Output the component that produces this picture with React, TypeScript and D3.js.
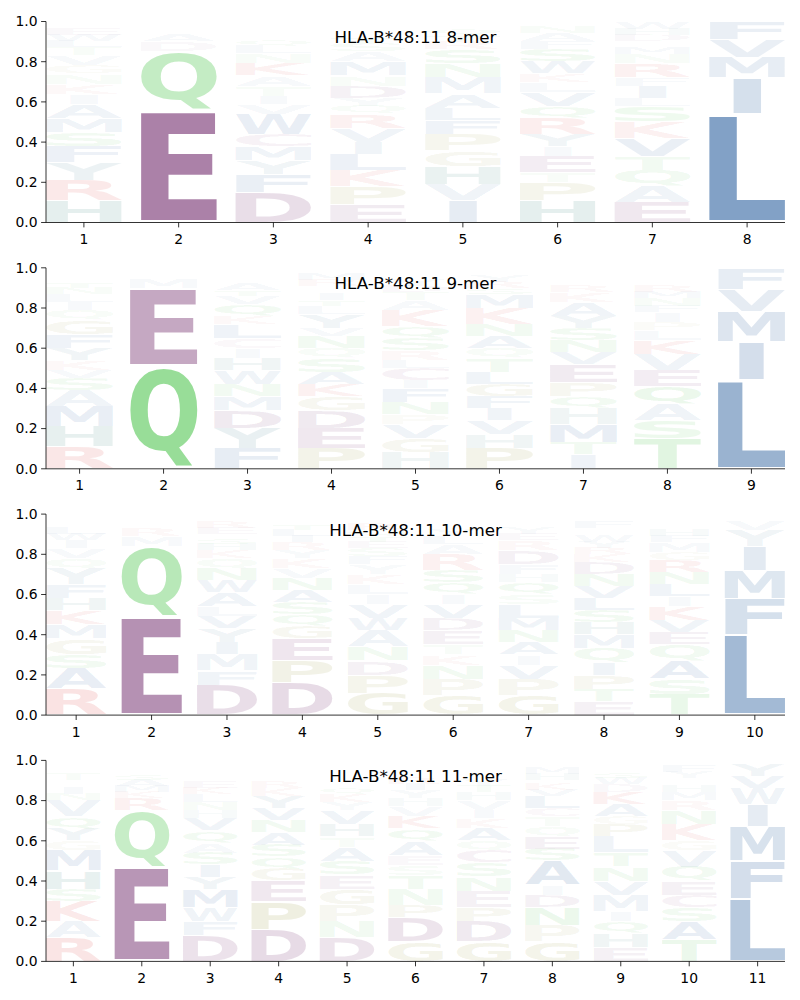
import React, { useMemo } from "react";
import * as d3 from "d3";

const allele = "HLA-B*48:11";
const peptideLengths = [8, 9, 10, 11];

// Each column: letter + height in hundredths, listed from bottom to top
const logo8 = [
  "H11 R10 Y9 F8 S7 M7 A7 I5 K5 N5 G4 V5 T4 L3 W3 E3 C2 D2",
  "E56 Q29 D5 A3 K2 S2 N2",
  "D15 F9 Y7 M7 C6 W10 V5 I4 T5 A5 K6 N5 L4 Q3 R2 E2 S2 H2",
  "E9 P9 K8 L8 I6 V7 R7 Q4 Y4 D6 N5 M7 A5 S4 T3 G2 F2 W2 H2",
  "I11 V8 H9 G8 P8 F7 L6 A7 M8 N7 S7 R4 T3 Q3 K2",
  "H11 P9 T5 E8 I5 Y6 R8 Q6 V7 L5 K4 W6 S6 F4 A4 N3 M2",
  "E10 A8 Q8 T7 V9 K8 S8 L4 I6 F4 R7 N5 M3 Y2 G1 D3 H3 W3",
  "L54 I18 M10 V9 F9",
];
const logo9 = [
  "R11 H10 M10 A8 S6 V4 K5 Y6 F7 G7 Q5 I4 L4 N3 T3 E2 D2 W2",
  "Q51 E39 M5 K2 A2",
  "F10 Y10 D9 M7 N6 W7 H6 I5 C5 L7 K4 Q6 V4 T3 A3 R2 E2 S2",
  "P10 E10 D9 G7 K6 A6 S7 Q5 N6 V4 Y7 L4 T3 I3 F2 H2 R3 M3 W2",
  "H8 G7 V7 P5 N6 F7 I4 C6 L4 R5 S6 Q6 K8 A5 T4 D3 Y3 E2 M2 W2",
  "P10 H7 V7 I6 F6 G6 L6 T7 Q5 A6 N6 K8 M7 S3 R3 Y3 D2",
  "I7 T6 M9 H8 Q6 P7 E9 V6 N6 S6 Y6 A7 K5 R3 L2 F2 D2 G2",
  "T15 S9 A8 Q9 E8 V8 K7 L5 P4 I5 F3 N4 M3 R3 H2 Y2 D2 G2",
  "L44 I19 M15 V11 F10",
];
const logo10 = [
  "R13 A10 S7 G8 M7 K7 H6 F7 Y8 Q5 V5 I4 W3 L3 N2 E2 T2",
  "E49 Q35 M5 R4 K2 D2 A2",
  "D15 F7 M8 I6 Y7 V6 L5 A7 W6 N6 Q5 K4 H3 S3 T2 E3 R3 G2 C2",
  "D16 P11 E11 G6 Q6 S6 A6 N6 V5 K5 Y4 R4 I3 L3 T3 F2 H2",
  "G11 P9 D7 N7 A8 W6 V7 I5 L5 K5 Y5 F4 S4 E3 T3 Q3 R3 M2 H2",
  "G10 P8 N7 K5 T5 E7 D6 V7 I5 Q6 S6 R8 A5 L4 Y3 F2 H2 M2 W2",
  "G10 P8 V7 I5 A6 N6 M6 L7 S5 Q6 H4 F5 D7 R5 E3 Y3 T2 K2 W2",
  "E7 T6 P7 I6 Q7 M7 H6 S6 L6 V6 N6 D6 K4 R3 Y3 W3 A2 G2 F3 C2",
  "T10 S8 A9 Q8 E6 V6 K7 I5 L6 N6 R6 G4 M5 F3 H3 Y2 D2 P2 W2",
  "L40 F18 M14 I12 Y8 V5 W2",
];
const logo11 = [
  "R12 A8 K10 S6 H9 M10 G5 Y6 Q6 V8 N3 I3 L2 F2 T3 E2 D2 W2",
  "E47 Q28 R6 K3 M3 A3 S3 L2 F2 D2",
  "D13 F7 W7 M9 Y6 I6 S6 A5 Q6 V6 H4 N4 L4 K3 E3 R2 T2 G2 C2 P2",
  "D16 P14 E10 G6 Q6 S6 A6 N6 V6 Y6 K4 R3 I2 L2 T2 H2 F2",
  "D12 N8 P8 G8 E7 S7 A7 T5 H6 V7 Y4 K4 Q3 R2 I2 L2 F2 M2 W2",
  "G10 D12 P6 N8 T7 S5 E5 A7 Q6 K6 V5 H4 Y4 I3 R3 L2 F2 M2 W2",
  "G10 D10 P7 E8 N7 S7 C6 Q5 A6 K5 I4 V5 H4 T3 Y3 L2 R2 F2 M2 W1",
  "G10 P8 N9 D6 I5 A12 S6 E6 Q5 T5 C4 L6 V3 K3 Y2 H3 M3 R2 W2",
  "E7 H7 Q6 I5 M8 V7 N7 T7 L8 P6 G4 A6 K6 D4 W3 S3 R2 Y2",
  "T11 A9 S7 C6 E7 Q7 V8 G5 K8 N7 R5 M4 H3 L2 I2 Y3 F3 D2",
  "L31 F19 M17 I11 W8 V6 Y6",
];
const logos = [logo8, logo9, logo10, logo11];
const yTicks = [0, 0.2, 0.4, 0.6, 0.8, 1.0];

const residueColor = (c: string): string => {
  if ("AVLIMFW".includes(c)) return "#185295";
  if ("DE".includes(c)) return "#691F63";
  if (c === "C") return "#8C3278";
  if ("NQST".includes(c)) return "#35BD35";
  if ("KR".includes(c)) return "#D62728";
  if (c === "H") return "#146E64";
  if (c === "Y") return "#286E82";
  return "#8C8C28"; // P, G
};

const FONT = "DejaVu Sans";
const FS = 200;
const metricsCache: Record<string, { l: number; r: number; a: number; d: number }> = {};
function inkBox(ch: string) {
  if (metricsCache[ch]) return metricsCache[ch];
  const cv = document.createElement("canvas");
  const ctx = cv.getContext("2d")!;
  ctx.font = `bold ${FS}px '${FONT}'`;
  const m = ctx.measureText(ch);
  const box = {
    l: m.actualBoundingBoxLeft,
    r: m.actualBoundingBoxRight,
    a: m.actualBoundingBoxAscent,
    d: m.actualBoundingBoxDescent,
  };
  metricsCache[ch] = box;
  return box;
}

function parseColumn(s: string) {
  let acc = 0;
  return s.split(" ").map((tok) => {
    const ch = tok[0];
    const h = +tok.slice(1) / 100;
    const y0 = acc;
    acc += h;
    return { ch, h, y0 };
  });
}

export default function App() {
  const left = 46;
  const right = 785;
  const panelTop = [21.5, 267.8, 514.1, 760.4];
  const panelH = 201;
  const glyphW = 0.8;
  const vpad = 0.05;

  const panels = useMemo(
    () =>
      logos.map((cols, pi) => {
        const n = peptideLengths[pi];
        const top = panelTop[pi];
        const bottom = top + panelH;
        const x = d3.scaleLinear().domain([0.6, n + 0.4]).range([left, right]);
        const y = d3.scaleLinear().domain([0, 1]).range([bottom, top]);
        const eBox = inkBox("E");
        const boxPx = x(glyphW) - x(0);
        const maxSx = boxPx / (eBox.l + eBox.r);
        const glyphs: any[] = [];
        cols.forEach((colStr, ci) => {
          const pos = ci + 1;
          parseColumn(colStr).forEach((g, gi) => {
            const b = inkBox(g.ch);
            const inkW = b.l + b.r;
            const sx = Math.min(boxPx / inkW, maxSx);
            const wPx = inkW * sx;
            const x0 = x(pos) - wPx / 2;
            const yTop = y(g.y0 + g.h - (g.h * vpad) / 2);
            const yBot = y(g.y0 + (g.h * vpad) / 2);
            const sy = (yBot - yTop) / (b.a + b.d);
            glyphs.push({
              key: `${pi}-${ci}-${gi}`,
              ch: g.ch,
              transform: `translate(${x0},${yTop}) scale(${sx},${sy}) translate(${b.l},${b.a})`,
              fill: residueColor(g.ch),
              opacity: Math.min(1, g.h),
            });
          });
        });
        return { n, top, bottom, x, y, glyphs };
      }),
    []
  );

  return (
    <svg
      width={800}
      height={1000}
      style={{ position: "absolute", left: 0, top: 0, background: "#fff" }}
      fontFamily="DejaVu Sans"
    >
      <rect width={800} height={1000} fill="#fff" />
      {panels.map((p, pi) => (
        <g key={pi}>
          {p.glyphs.map((g) => (
            <text
              key={g.key}
              transform={g.transform}
              fontSize={FS}
              fontFamily={FONT}
              fontWeight="bold"
              fill={g.fill}
              fillOpacity={g.opacity}
            >
              {g.ch}
            </text>
          ))}
          <line x1={left} x2={left} y1={p.top} y2={p.bottom} stroke="#000" strokeWidth={0.8} />
          <line x1={left} x2={right} y1={p.bottom} y2={p.bottom} stroke="#000" strokeWidth={0.8} />
          {yTicks.map((t) => (
            <g key={t}>
              <line x1={left - 4.9} x2={left} y1={p.y(t)} y2={p.y(t)} stroke="#000" strokeWidth={0.8} />
              <text x={left - 8.5} y={p.y(t)} dy="0.35em" textAnchor="end" fontSize={13.9} fill="#000">
                {d3.format(".1f")(t)}
              </text>
            </g>
          ))}
          {d3.range(1, p.n + 1).map((v) => (
            <g key={v}>
              <line x1={p.x(v)} x2={p.x(v)} y1={p.bottom} y2={p.bottom + 4.9} stroke="#000" strokeWidth={0.8} />
              <text x={p.x(v)} y={p.bottom + 21.5} textAnchor="middle" fontSize={13.9} fill="#000">
                {v}
              </text>
            </g>
          ))}
          <text x={(left + right) / 2} y={p.top + 21.5} textAnchor="middle" fontSize={16.7} fill="#000">
            {`${allele} ${p.n}-mer`}
          </text>
        </g>
      ))}
    </svg>
  );
}
